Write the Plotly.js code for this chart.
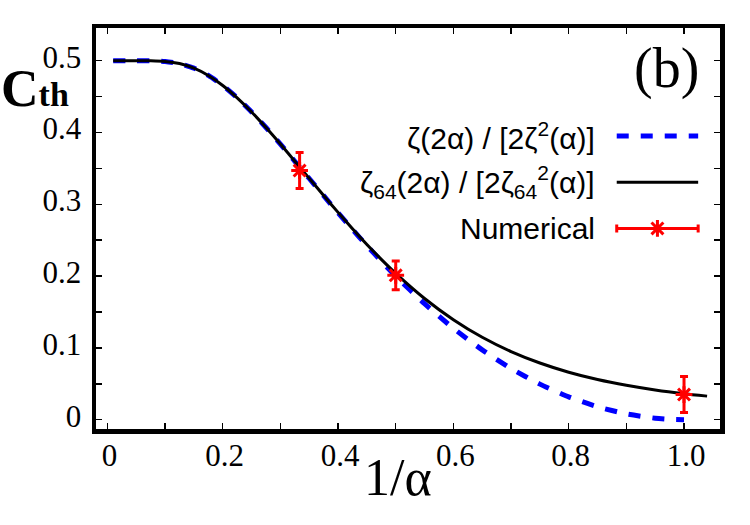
<!DOCTYPE html>
<html>
<head>
<meta charset="utf-8">
<script src="https://cdn.plot.ly/plotly-3.0.1.min.js"></script>
<style>
  html, body { margin: 0; padding: 0; background: #fff; }
  #chart { width: 750px; height: 525px; }
</style>
</head>
<body>
<div id="chart"></div>
<script>
// Full Riemann zeta ratio  zeta(2a) / [2 zeta^2(a)]  versus 1/a
const zetaX = [0.01, 0.05, 0.075, 0.1, 0.125, 0.15, 0.175, 0.2, 0.225, 0.25, 0.275, 0.3, 0.333, 0.35, 0.375, 0.4, 0.425, 0.45, 0.475, 0.5, 0.55, 0.6, 0.65, 0.7, 0.75, 0.8, 0.85, 0.9, 0.95, 0.975, 1.0];
const zetaY = [0.5, 0.5, 0.4999, 0.4990, 0.4960, 0.4896, 0.4794, 0.4655, 0.4483, 0.4286, 0.4069, 0.3839, 0.3520, 0.3359, 0.3119, 0.2881, 0.2649, 0.2424, 0.2207, 0.2000, 0.1615, 0.1273, 0.0972, 0.0713, 0.0495, 0.0318, 0.0180, 0.0080, 0.0020, 0.0005, 0.0];

// Truncated sum (64 terms)  zeta_64(2a) / [2 zeta_64^2(a)]
const zeta64X = [0.01, 0.05, 0.075, 0.1, 0.125, 0.15, 0.175, 0.2, 0.225, 0.25, 0.275, 0.3, 0.333, 0.35, 0.375, 0.4, 0.425, 0.45, 0.475, 0.5, 0.55, 0.6, 0.65, 0.7, 0.75, 0.8, 0.85, 0.9, 0.95, 1.0, 1.04];
const zeta64Y = [0.5, 0.5, 0.4999, 0.4990, 0.4960, 0.4896, 0.4794, 0.4655, 0.4483, 0.4286, 0.4069, 0.3839, 0.3521, 0.3361, 0.3121, 0.2887, 0.2659, 0.2440, 0.2233, 0.2038, 0.1688, 0.1392, 0.1147, 0.0948, 0.0789, 0.0661, 0.0559, 0.0479, 0.0414, 0.0362, 0.0328];

// Numerical estimates with error bars
const numX = [0.3333, 0.5, 1.0];
const numY = [0.347, 0.201, 0.035];
const numErr = [0.025, 0.020, 0.025];

// Axis ticks (labelled majors; unlabelled minors halfway between)
const xTickVals = [0, 0.2, 0.4, 0.6, 0.8, 1.0];
const xTickText = ['0', '0.2', '0.4', '0.6', '0.8', '1.0'];
const yTickVals = [0, 0.1, 0.2, 0.3, 0.4, 0.5];
const yTickText = ['0', '0.1', '0.2', '0.3', '0.4', '0.5'];

// Legend labels
const legendLabels = [
  'ζ(2α) / [2ζ<sup>2</sup>(α)]',
  'ζ<sub>64</sub>(2α) / [2ζ<sub>64</sub><sup>2</sup>(α)]',
  'Numerical'
];

const BLUE = '#0000ff';
const RED = '#ff0000';
const SERIF = 'Liberation Serif';
const SANS = 'Liberation Sans';

// Legend key geometry (fractions of the plot area)
const keyX0 = 0.8345, keyX1 = 0.965;
const keyRows = [0.7305, 0.6153, 0.5002];
const keyMid = (keyX0 + keyX1) / 2;

const traces = [
  {
    x: zetaX, y: zetaY, mode: 'lines', type: 'scatter',
    line: { color: BLUE, width: 5, dash: '12px,12px', shape: 'spline', smoothing: 0.6 },
    hoverinfo: 'skip'
  },
  {
    x: zeta64X, y: zeta64Y, mode: 'lines', type: 'scatter',
    line: { color: 'black', width: 3, shape: 'spline', smoothing: 0.6 },
    hoverinfo: 'skip'
  },
  {
    x: numX, y: numY, mode: 'markers', type: 'scatter',
    marker: { symbol: 'asterisk-open', size: 14, color: RED, line: { color: RED, width: 3 } },
    error_y: { type: 'data', array: numErr, visible: true, color: RED, thickness: 3, width: 4 }
  },
  // legend keys
  {
    x: [keyX0, keyX1], y: [keyRows[0], keyRows[0]], xaxis: 'x2', yaxis: 'y2',
    mode: 'lines', line: { color: BLUE, width: 5, dash: '12px,12px' }, hoverinfo: 'skip'
  },
  {
    x: [keyX0, keyX1], y: [keyRows[1], keyRows[1]], xaxis: 'x2', yaxis: 'y2',
    mode: 'lines', line: { color: 'black', width: 3 }, hoverinfo: 'skip'
  },
  {
    x: [keyMid], y: [keyRows[2]], xaxis: 'x2', yaxis: 'y2', mode: 'markers',
    marker: { symbol: 'asterisk-open', size: 14, color: RED, line: { color: RED, width: 3 } },
    error_x: { type: 'constant', value: (keyX1 - keyX0) / 2, visible: true, color: RED, thickness: 3, width: 4 },
    hoverinfo: 'skip'
  }
];

const annotations = legendLabels.map((t, i) => ({
  text: t, xref: 'paper', yref: 'paper', x: 0.8026, y: keyRows[i],
  xanchor: 'right', yanchor: 'middle', showarrow: false,
  font: { family: SANS, size: 30, color: 'black' }
}));

annotations.push(
  { text: '(b)', xref: 'paper', yref: 'paper', x: 0.9135, y: 0.899,
    xanchor: 'center', yanchor: 'middle', showarrow: false,
    font: { family: SERIF, size: 56, color: 'black' } },
  { text: '1/α', xref: 'paper', yref: 'paper', x: 0.484, y: -0.12,
    xanchor: 'center', yanchor: 'middle', showarrow: false,
    font: { family: SERIF, size: 52, color: 'black' } },
  { text: '<b>C<span style="font-size:34px">th</span></b>', xref: 'paper', yref: 'paper',
    x: -0.155, y: 0.848, xanchor: 'left', yanchor: 'middle', showarrow: false,
    font: { family: SERIF, size: 52, color: 'black' } }
);

function axis(range, vals, text, minorStep, standoff, shift) {
  return {
    range: range, tickmode: 'array', tickvals: vals, ticktext: text,
    showline: true, linecolor: 'black', linewidth: 4.5, mirror: 'ticks',
    ticks: 'inside', ticklen: 6, tickwidth: 1.5, tickcolor: 'black',
    minor: { dtick: minorStep, tick0: 0, ticks: 'inside', ticklen: 6, tickwidth: 1.5, tickcolor: 'black', showgrid: false },
    showgrid: false, zeroline: false,
    ticklabelstandoff: standoff, ticklabelshift: shift,
    tickfont: { family: SERIF, size: 31, color: 'black' }
  };
}

const layout = {
  width: 750, height: 525,
  margin: { l: 96, r: 30, t: 28, b: 96 },
  paper_bgcolor: 'white', plot_bgcolor: 'white',
  font: { family: SERIF, size: 31, color: 'black' },
  showlegend: false,
  xaxis: axis([-0.0198, 1.0624], xTickVals, xTickText, 0.1, -5, 2),
  yaxis: axis([-0.013, 0.5455], yTickVals, yTickText, 0.05, 4, -4),
  xaxis2: { overlaying: 'x', range: [0, 1], visible: false, fixedrange: true },
  yaxis2: { overlaying: 'y', range: [0, 1], visible: false, fixedrange: true },
  annotations: annotations
};

Plotly.newPlot('chart', traces, layout, { displayModeBar: false, staticPlot: true });
</script>
</body>
</html>
